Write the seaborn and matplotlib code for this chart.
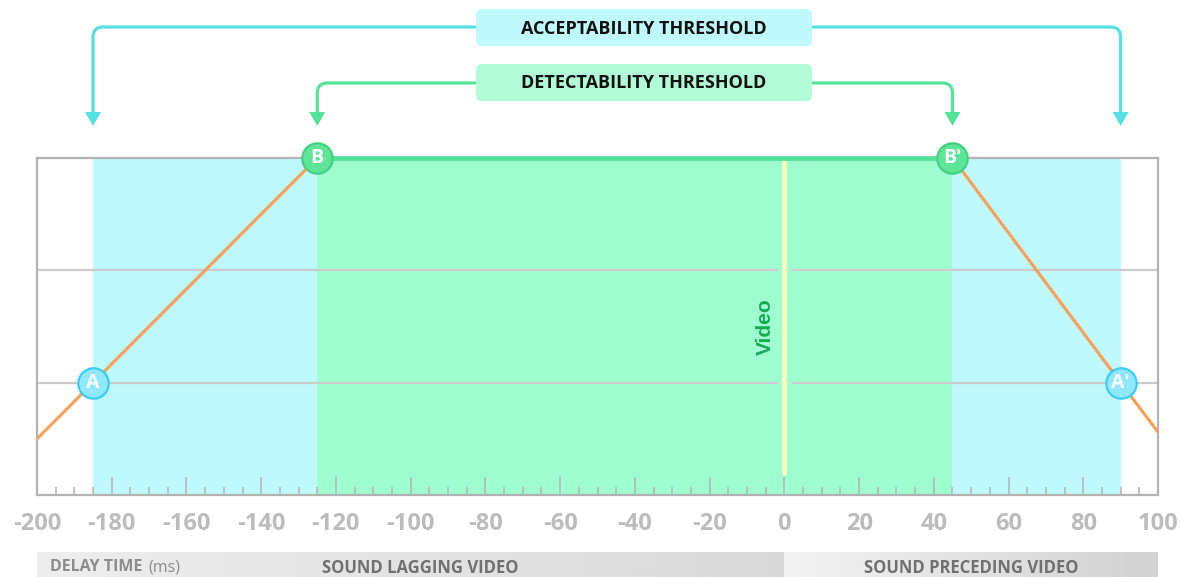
import numpy as np
import matplotlib
matplotlib.use("Agg")
import matplotlib.pyplot as plt
from matplotlib.path import Path
from matplotlib.patches import PathPatch, FancyBboxPatch, Polygon
import seaborn as sns

# data (delay in ms, negative = sound lagging video)
delay_ms = [-200, -185, -125, 45, 90, 100]
level = [0.5, 1.0, 3.0, 3.0, 1.0, 0.56]
accept_range = [-185, 90]
detect_range = [-125, 45]
point_x = [-185, 90, -125, 45]
point_y = [1, 1, 3, 3]
point_names = ["A", "A\u2032", "B", "B\u2032"]
point_kind = ["accept", "accept", "detect", "detect"]
tick_values = [-200, -180, -160, -140, -120, -100, -80, -60, -40, -20, 0, 20, 40, 60, 80, 100]
band_labels = ["SOUND LAGGING VIDEO", "SOUND PRECEDING VIDEO"]

sns.set_style("white")
plt.rcParams['font.family'] = ['Open Sans', 'DejaVu Sans']

CYAN_BG = '#bff9fc'
GREEN_BG = '#9ffecf'
CYAN_LINE = '#55e1e2'
GREEN_LINE = '#56e298'
ORANGE = '#f8a15a'
GRID = '#cbcbcb'
SPINE = '#b3b3b3'

W, H = 1180, 577
fig = plt.figure(figsize=(W / 100, H / 100), dpi=100)
ax = fig.add_axes([37 / W, (H - 495) / H, 1121 / W, 337 / H])
ax.set_xlim(-200, 100)
ax.set_ylim(0, 3)

# threshold regions
ax.axvspan(*accept_range, color=CYAN_BG, lw=0, zorder=0)
ax.axvspan(*detect_range, color=GREEN_BG, lw=0, zorder=0)

# grid lines with a gap around the video line
for yy in [1, 2]:
    ax.plot([-200, -2], [yy, yy], color=GRID, lw=1.6, zorder=1)
    ax.plot([2, 100], [yy, yy], color=GRID, lw=1.6, zorder=1)

# video line
ax.plot([0, 0], [0.2, 2.98], color='#fffcc0', lw=3.4, zorder=2, solid_capstyle='round')
ax.text(-5, 1.5, "Video", rotation=90, ha='center', va='center', color='#17aa55',
        fontsize=15, fontweight='bold', family=['Liberation Sans', 'DejaVu Sans'])

# curve
sns.lineplot(x=delay_ms, y=level, color=ORANGE, lw=2.3, sort=False, ax=ax, zorder=3)
ax.plot(detect_range, [3, 3], color=GREEN_LINE, lw=3.4, zorder=4, clip_on=False,
        solid_capstyle='butt')

# points
pal = {"accept": ['#8fe8fb', '#3ccdf4'], "detect": ['#5ee598', '#44d282']}
for x, y, name, kind in zip(point_x, point_y, point_names, point_kind):
    ax.scatter([x], [y], s=480, color=pal[kind][0], edgecolor=pal[kind][1],
               linewidth=1.6, zorder=6, clip_on=False)
    ax.text(x, y, name, ha='center', va='center', color='white', fontsize=14,
            fontweight='bold', zorder=7)

# axes styling
for side in ['left', 'right', 'top', 'bottom']:
    ax.spines[side].set_color(SPINE)
    ax.spines[side].set_linewidth(1.6)
ax.set_yticks([])
ax.set_xticks(tick_values)
ax.set_xticks(np.arange(-200, 101, 5), minor=True)
ax.set_xticklabels([str(t) for t in tick_values])
ax.tick_params(axis='x', which='major', direction='in', length=13, width=1.1,
               color=SPINE, labelsize=17, labelcolor='#bcbcbc', pad=12)
ax.tick_params(axis='x', which='minor', direction='in', length=6, width=1.1, color=SPINE)
ax.tick_params(axis='x', which='both', bottom=True)
for lab in ax.get_xticklabels():
    lab.set_fontweight('bold')

# decoration layer in pixel coordinates
deco = fig.add_axes([0, 0, 1, 1], zorder=-1)
deco.set_xlim(0, W)
deco.set_ylim(H, 0)
deco.axis('off')


def px(v):
    return ax.transData.transform((v, 0))[0]


def connector(x_from, y, x_to, color):
    r = 10
    sgn = 1 if x_to > x_from else -1
    verts = [(x_from, y), (x_to - sgn * r, y), (x_to, y), (x_to, y + r), (x_to, 113)]
    codes = [Path.MOVETO, Path.LINETO, Path.CURVE3, Path.CURVE3, Path.LINETO]
    deco.add_patch(PathPatch(Path(verts, codes), fill=False, ec=color, lw=2.3,
                             capstyle='butt'))
    deco.add_patch(Polygon([(x_to - 8, 112), (x_to + 8, 112), (x_to, 126)],
                           closed=True, color=color, lw=0))


box_l, box_r = 476, 812
connector(box_l, 27, px(accept_range[0]), CYAN_LINE)
connector(box_r, 27, px(accept_range[1]), CYAN_LINE)
connector(box_l, 83, px(detect_range[0]), GREEN_LINE)
connector(box_r, 83, px(detect_range[1]), GREEN_LINE)

for (yt, yb), color, label in [((9, 46), CYAN_BG, "ACCEPTABILITY THRESHOLD"),
                               ((64, 101), '#b1fbd6', "DETECTABILITY THRESHOLD")]:
    deco.add_patch(FancyBboxPatch((box_l + 6, yt + 6), box_r - box_l - 12, yb - yt - 12,
                                  boxstyle="round,pad=6", fc=color, ec='none'))
    deco.text((box_l + box_r) / 2, (yt + yb) / 2 + 1, label, ha='center', va='center',
              fontsize=13, fontweight='bold', color='#111111')

# bottom band
x0, xm, x1 = px(-200), px(0), px(100)
grad_l = np.linspace(0.93, 0.85, 256).reshape(1, -1)
grad_r = np.linspace(0.95, 0.82, 256).reshape(1, -1)
deco.imshow(grad_l, cmap='gray', vmin=0, vmax=1, aspect='auto',
            extent=[x0, xm, H, 552], zorder=1)
deco.imshow(grad_r, cmap='gray', vmin=0, vmax=1, aspect='auto',
            extent=[xm, x1, H, 552], zorder=1)
deco.set_xlim(0, W)
deco.set_ylim(H, 0)
deco.text(50, 567, "DELAY TIME", ha='left', va='center', fontsize=11.5,
          fontweight='bold', color='#8c8c8c', zorder=2)
deco.text(148, 567, "(ms)", ha='left', va='center', fontsize=11.5,
          color='#8c8c8c', zorder=2)
deco.text((x0 + xm) / 2 + 10, 568, band_labels[0], ha='center', va='center',
          fontsize=12, fontweight='bold', color='#707070', zorder=2)
deco.text((xm + x1) / 2 + 0, 568, band_labels[1], ha='center', va='center',
          fontsize=12, fontweight='bold', color='#707070', zorder=2)

fig.savefig("out.png", dpi=100)
